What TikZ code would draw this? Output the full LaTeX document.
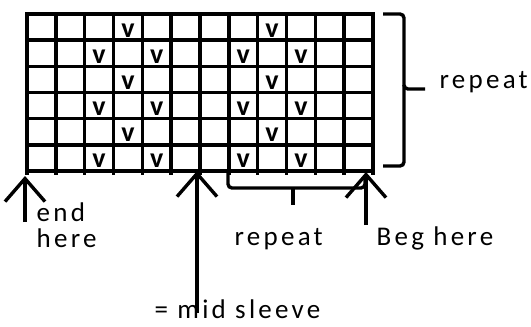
\documentclass[tikz,border=0pt]{standalone}
\usepackage{fontspec}
\setmainfont{Carlito}[LetterSpace=12]
\usetikzlibrary{arrows.meta}

\tikzset{
  label text/.style={font=\fontsize{27}{26}\selectfont, inner sep=0pt, anchor=base west, align=left},
  stitch/.style={font=\fontsize{28}{28}\selectfont\bfseries, inner sep=0pt, anchor=base},
  up arrow/.style={-{Straight Barb[length=23pt,width=40pt]}, line width=3.4pt},
}

\begin{document}
\begin{tikzpicture}[x=1pt, y=-1pt, line width=3.4pt]
  \useasboundingbox (0,0) rectangle (531,327);

  % chart grid, 12 stitches by 6 rows
  \foreach \i in {0,...,12}
    \draw[line cap=rect] ({27+\i*28.83},14) -- ({27+\i*28.83},173);
  \foreach \j in {0,...,6}
    \draw[line cap=rect] (27,{14+\j*26.17}) -- (373,{14+\j*26.17});

  % slipped stitches
  \foreach \c/\r in {3/0,8/0,2/1,4/1,7/1,9/1,3/2,8/2,2/3,4/3,7/3,9/3,3/4,8/4,2/5,4/5,7/5,9/5}
    \node[stitch] (v\c\r) at ({27+(\c+0.5)*28.83},{14+\r*26.17+23}) {v};

  % braces
  \draw[rounded corners=4pt] (383,14) -- (404,14) -- (404,89) -- (425,89);
  \draw[rounded corners=4pt] (404,85) -- (404,166) -- (383,166);
  \draw[rounded corners=4pt] (228,173) -- (228,188) -- (365,188) -- (365,176);
  \draw (293,188) -- (293,205);

  \node[label text] (rowrep) at (438,88) {repeat};
  \node[label text] (endhere) at (35,247) {end\\here};
  \node[label text] (strep) at (233,245) {repeat};
  \node[label text] (beghere) at (375,245) {Beg here};
  \node[label text] (midsleeve) at (153,318) {= mid sleeve};

  % arrows
  \coordinate (endtail) at (25,222);
  \coordinate (endtip) at (25,176);
  \coordinate (midtail) at (197,313);
  \coordinate (midtip) at (197,171);
  \coordinate (begtail) at (366,225);
  \coordinate (begtip) at (366,172);

  \draw[up arrow] (endtail) -- (endtip);
  \draw[up arrow] (midtail) -- (midtip);
  \draw[up arrow] (begtail) -- (begtip);
\end{tikzpicture}
\end{document}
